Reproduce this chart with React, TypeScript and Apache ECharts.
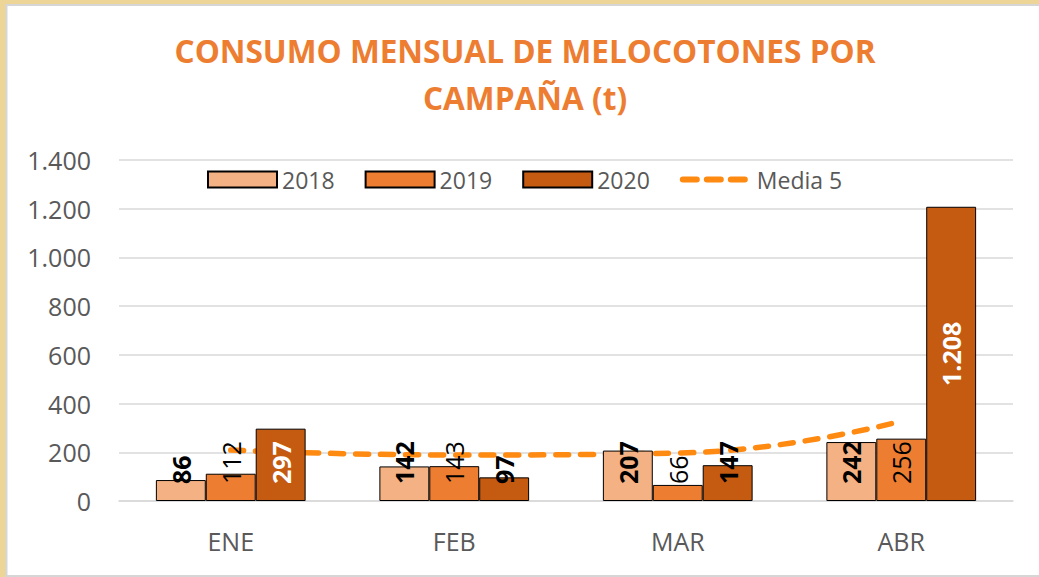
import React, { useEffect, useRef } from "react";
import * as echarts from "echarts";

const categories = ["ENE", "FEB", "MAR", "ABR"];
const s2018 = [86, 142, 207, 242];
const s2019 = [112, 143, 66, 256];
const s2020 = [297, 97, 147, 1208];
const media5 = [209, 189, 197, 328];
const labelColors2020 = ["#FFFFFF", "#000000", "#000000", "#FFFFFF"];
const yTicks = [0, 200, 400, 600, 800, 1000, 1200, 1400];
const titleLines = ["CONSUMO MENSUAL DE MELOCOTONES POR", "CAMPAÑA (t)"];

const FONT = "'Open Sans', sans-serif";
const LINE_COLOR = "#FF8A12";

const fmt = (v: number) => String(Math.round(v)).replace(/\B(?=(\d{3})+(?!\d))/g, ".");

function makeLabel(bold: boolean, color: string) {
  return {
    show: true,
    position: "insideBottom",
    distance: 17,
    rotate: 90,
    align: "left",
    verticalAlign: "middle",
    fontFamily: FONT,
    fontSize: 25,
    fontWeight: bold ? "bold" : "normal",
    color,
    formatter: (p: any) => fmt(p.value),
  };
}

export default function App() {
  const ref = useRef<HTMLDivElement>(null);
  useEffect(() => {
    if (!ref.current) return;
    const chart = echarts.init(ref.current, undefined, { renderer: "svg" });
    const maxVal = yTicks[yTicks.length - 1];
    const data2020 = s2020.map((v, i) => {
      const tall = v > 600;
      return {
        value: v,
        label: tall
          ? { ...makeLabel(true, labelColors2020[i]), position: "inside", align: "center", distance: 0 }
          : makeLabel(true, labelColors2020[i]),
      };
    });
    chart.setOption({
      animation: false,
      backgroundColor: "#EDD598",
      graphic: [
        {
          type: "rect",
          shape: { x: 6.5, y: 5, width: 1040, height: 571 },
          style: { fill: "#FFFFFF", stroke: "#D6D6D6", lineWidth: 2 },
          z: -10,
          silent: true,
        },
        ...titleLines.map((t, i) => ({
          type: "text",
          x: 525,
          y: 50 + i * 47,
          style: {
            text: t,
            fill: "#ED7D31",
            font: `bold 31.6px ${FONT}`,
            textAlign: "center",
            textVerticalAlign: "middle",
          },
        })),
      ],
      legend: {
        left: 207,
        top: 168,
        padding: 0,
        itemWidth: 69,
        itemHeight: 16,
        itemGap: 30,
        textStyle: { fontFamily: FONT, fontSize: 23, color: "#595959" },
        data: [
          { name: "2018", icon: "rect" },
          { name: "2019", icon: "rect" },
          { name: "2020", icon: "rect" },
          {
            name: "Media 5",
            itemStyle: { opacity: 0 },
            lineStyle: { color: LINE_COLOR, width: 6, type: [14, 10], cap: "round" },
          },
        ],
      },
      grid: { left: 119, right: 26, top: 160, bottom: 76 },
      xAxis: {
        type: "category",
        data: categories,
        axisLine: { lineStyle: { color: "#D9D9D9", width: 1.5 } },
        axisTick: { show: false },
        axisLabel: { fontFamily: FONT, fontSize: 25, color: "#595959", margin: 27 },
      },
      yAxis: {
        type: "value",
        min: 0,
        max: maxVal,
        interval: 200,
        axisLine: { show: false },
        axisTick: { show: false },
        splitLine: { lineStyle: { color: "#D9D9D9", width: 1.5 } },
        axisLabel: {
          fontFamily: FONT,
          fontSize: 25,
          color: "#595959",
          margin: 28,
          formatter: (v: number) => fmt(v),
        },
      },
      series: [
        {
          name: "2018",
          type: "bar",
          z: 3,
          data: s2018,
          barGap: "0%",
          barCategoryGap: "33%",
          itemStyle: { color: "#F4B183", borderColor: "#000", borderWidth: 1 },
          label: makeLabel(true, "#000000"),
        },
        {
          name: "2019",
          type: "bar",
          z: 3,
          data: s2019,
          itemStyle: { color: "#ED7D31", borderColor: "#000", borderWidth: 1 },
          label: makeLabel(false, "#000000"),
        },
        {
          name: "2020",
          type: "bar",
          z: 3,
          data: data2020,
          itemStyle: { color: "#C55A11", borderColor: "#000", borderWidth: 1 },
          label: makeLabel(true, "#000000"),
        },
        {
          name: "Media 5",
          type: "line",
          data: media5,
          smooth: 0.5,
          symbol: "none",
          z: 2,
          itemStyle: { color: LINE_COLOR },
          lineStyle: { color: LINE_COLOR, width: 5.5, type: [13, 12], cap: "round" },
        },
      ],
    });
    return () => chart.dispose();
  }, []);
  return (
    <div
      ref={ref}
      style={{ position: "fixed", left: 0, top: 0, width: 1039, height: 577 }}
    />
  );
}
